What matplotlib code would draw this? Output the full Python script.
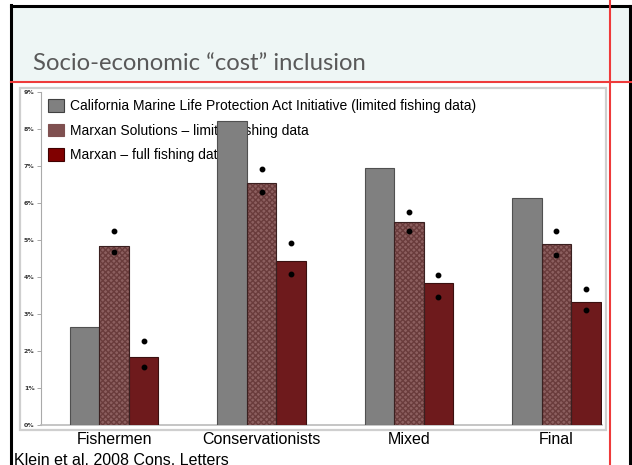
import matplotlib
matplotlib.use('Agg')
import matplotlib.pyplot as plt
from matplotlib.patches import Rectangle, Patch
from matplotlib.lines import Line2D
import numpy as np

# data (percent)
groups = ['Fishermen', 'Conservationists', 'Mixed', 'Final']
mlpa = [2.65, 8.22, 6.95, 6.14]
marxan_limited = [4.84, 6.54, 5.49, 4.89]
marxan_full = [1.84, 4.43, 3.84, 3.32]
# dot pairs shown on the Marxan bars (upper, lower)
limited_dots_hi = [5.24, 6.92, 5.76, 5.24]
limited_dots_lo = [4.68, 6.30, 5.24, 4.59]
full_dots_hi = [2.26, 4.92, 4.05, 3.68]
full_dots_lo = [1.57, 4.08, 3.46, 3.11]
yticks = list(range(0, 10))
legend_labels = ['California Marine Life Protection Act Initiative (limited fishing data)',
                 'Marxan Solutions \u2013 limited fishing data',
                 'Marxan \u2013 full fishing data']

W, H = 632, 465
fig = plt.figure(figsize=(W / 100, H / 100), dpi=100)
fig.patch.set_facecolor('white')

def fx(px):
    return px / W

def fy(py):
    return 1 - py / H

# slide decorations: title band, borders, guide lines
fig.patches.append(Rectangle((fx(12), fy(82)), fx(617), 75 / H, transform=fig.transFigure,
                             facecolor='#eef6f5', edgecolor='none', zorder=-2))
fig.add_artist(Line2D([fx(11), fx(11)], [fy(5), 0], color='black', lw=2.2))
fig.add_artist(Line2D([fx(11), fx(632)], [fy(6), fy(6)], color='black', lw=2.2))
fig.add_artist(Line2D([fx(630), fx(630)], [fy(6), 0], color='black', lw=2.2))
fig.add_artist(Line2D([fx(11), 1], [fy(82), fy(82)], color='#ee3a3a', lw=1.5))
fig.add_artist(Line2D([fx(609.5), fx(609.5)], [1, 0], color='#ee3a3a', lw=1.5))
# chart picture frame
fig.patches.append(Rectangle((fx(20), fy(430)), fx(586), 342 / H, transform=fig.transFigure,
                             facecolor='white', edgecolor='#cfcfcf', lw=1.6, zorder=-1))

fig.text(fx(33), fy(63), 'Socio-economic \u201ccost\u201d inclusion', fontsize=17.2,
         family=['Lato', 'DejaVu Sans'], color='#595959', va='center', ha='left')

ax = fig.add_axes([fx(41), fy(425), fx(561), 333 / H])
ax.set_facecolor('none')

x = np.arange(len(groups))
bw = 0.2
ax.bar(x - bw, mlpa, bw, color='#808080', edgecolor='#505050', lw=0.8, zorder=3)
ax.bar(x, marxan_limited, bw, color='#8c5f5f', edgecolor='#6a3c3c', lw=0, hatch='xxxxxx', zorder=3)
ax.bar(x, marxan_limited, bw, fill=False, edgecolor='#3a2020', lw=0.8, zorder=3.5)
ax.bar(x + bw, marxan_full, bw, color='#6e1a1c', edgecolor='#3a1010', lw=0.8, zorder=3)

ax.plot(x, limited_dots_hi, 'o', color='black', ms=3.2, zorder=4)
ax.plot(x, limited_dots_lo, 'o', color='black', ms=3.2, zorder=4)
ax.plot(x + bw, full_dots_hi, 'o', color='black', ms=3.2, zorder=4)
ax.plot(x + bw, full_dots_lo, 'o', color='black', ms=3.2, zorder=4)

ax.set_xlim(-0.496, 3.31)
ax.set_ylim(0, 9)
ax.set_yticks(yticks)
ax.set_yticklabels([f'{v}%' for v in yticks], fontsize=4.5, fontweight='bold', color='#333333')
ax.tick_params(axis='y', length=3, width=0.6, color='#999999', pad=1.5)
ax.set_xticks([])
for s in ['top', 'right']:
    ax.spines[s].set_visible(False)
ax.spines['left'].set_color('#aaaaaa')
ax.spines['bottom'].set_color('#bbbbbb')
ax.spines['left'].set_linewidth(0.8)
ax.spines['bottom'].set_linewidth(1.2)

label_font = ['Liberation Sans', 'DejaVu Sans']
for xi, g in zip(x, groups):
    ax.text(xi, -0.045, g, transform=ax.get_xaxis_transform(), ha='center', va='center',
            fontsize=11.5, family=label_font, color='black')

handles = [Patch(facecolor='#808080', edgecolor='#404040', lw=0.8),
           Patch(facecolor='#7f5050', edgecolor='#7f5050', lw=0.8),
           Patch(facecolor='#800000', edgecolor='#400000', lw=0.8)]
leg = ax.legend(handles, legend_labels, loc='upper left', bbox_to_anchor=(fx(47.5), fy(99)),
                bbox_transform=fig.transFigure, frameon=False, borderpad=0, borderaxespad=0,
                handlelength=1.2, handleheight=1.05, handletextpad=0.4, labelspacing=0.75,
                prop={'family': label_font, 'size': 10.0})
leg.set_zorder(1)

fig.text(fx(14), fy(453), 'Klein et al. 2008 Cons. Letters', fontsize=11.5, family=label_font,
         color='black', ha='left', va='top')

fig.savefig('out.png', dpi=100)
